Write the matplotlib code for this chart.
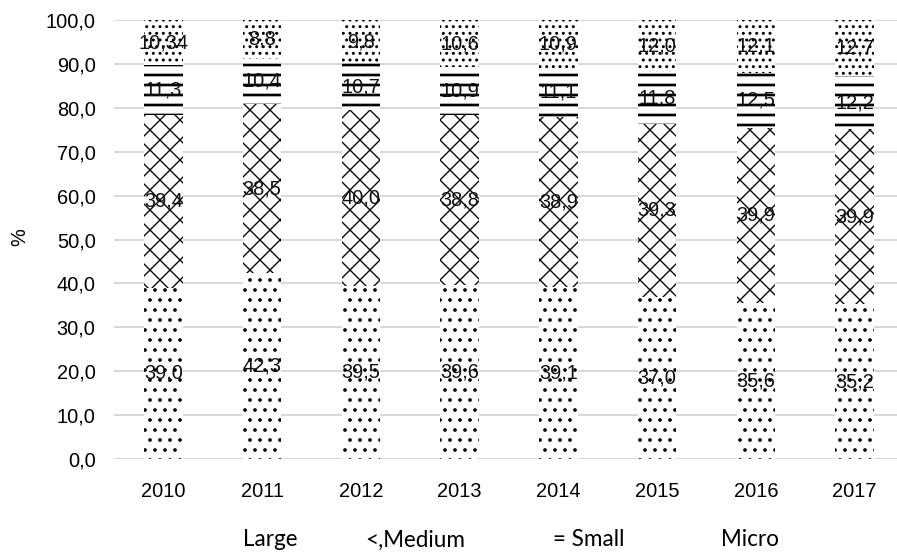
import matplotlib
matplotlib.use("Agg")
import matplotlib.pyplot as plt
import numpy as np

years = ["2010", "2011", "2012", "2013", "2014", "2015", "2016", "2017"]
large = [39.0, 42.3, 39.5, 39.6, 39.1, 37.0, 35.6, 35.2]
medium = [39.4, 38.5, 40.0, 38.8, 38.9, 39.3, 39.9, 39.9]
small = [11.3, 10.4, 10.7, 10.9, 11.1, 11.8, 12.5, 12.2]
micro = [10.34, 8.8, 9.8, 10.6, 10.9, 12.0, 12.1, 12.7]
legend_labels = ["Large", "<,Medium", "= Small", "Micro"]
yticks = [0, 10, 20, 30, 40, 50, 60, 70, 80, 90, 100]

plt.rcParams["font.family"] = ["Liberation Sans", "DejaVu Sans"]

DPI = 120
W, H = 897, 554
fig = plt.figure(figsize=(W / DPI, H / DPI), dpi=DPI)
fig.patch.set_facecolor("white")

left_px, right_px, top_px, bot_px = 114, 904, 20, 459
ax = fig.add_axes([left_px / W, 1 - bot_px / H, (right_px - left_px) / W, (bot_px - top_px) / H])
ax.set_facecolor("white")

x = np.arange(len(years))
series = [large, medium, small, micro]
hatches = ["..", "xx", "--", "..."]
hlw = [1.0, 0.8, 1.6, 1.0]
width = 0.39

def fmt(v):
    if round(v, 1) != round(v, 2):
        s = f"{v:.2f}"
    else:
        s = f"{v:.1f}"
    return s.replace(".", ",")

bottom = np.zeros(len(years))
for vals, h, lw in zip(series, hatches, hlw):
    with plt.rc_context({"hatch.linewidth": lw, "hatch.color": "black"}):
        bars = ax.bar(x, vals, width, bottom=bottom, facecolor="white",
                      edgecolor="black", linewidth=0, hatch=h, zorder=2)
        for b in bars:
            if hasattr(b, "set_hatch_linewidth"):
                b.set_hatch_linewidth(lw)
    for xi, v, b0 in zip(x, vals, bottom):
        ax.text(xi, b0 + v / 2, fmt(v), ha="center", va="center",
                fontsize=12, color="#111111", zorder=3)
    bottom = bottom + np.array(vals)

ax.set_xlim(-0.5, len(years) - 0.5)
ax.set_ylim(0, 100)
ax.set_yticks(yticks)
ax.set_yticklabels([f"{t:.1f}".replace(".", ",") for t in yticks], fontsize=12)
ax.set_xticks(x)
ax.set_xticklabels(years, fontsize=12)
ax.tick_params(axis="both", length=0)
ax.tick_params(axis="y", pad=11)
ax.tick_params(axis="x", pad=14)
ax.grid(axis="y", color="#d9d9d9", linewidth=1.2, zorder=0)
ax.set_axisbelow(True)
for s in ax.spines.values():
    s.set_visible(False)

fig.text(20 / W, 1 - 237 / H, "%", rotation=90, ha="center", va="center", fontsize=12)

leg_x = [270, 415, 589, 750]
for lx, lab in zip(leg_x, legend_labels):
    fig.text(lx / W, 1 - 540 / H, lab, ha="center", va="center",
             fontsize=13.5, family=["Lato", "DejaVu Sans"])

fig.savefig("out.png", dpi=DPI, facecolor="white")
